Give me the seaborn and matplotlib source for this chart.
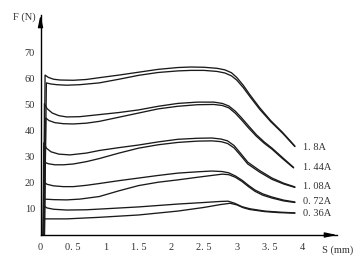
import matplotlib
matplotlib.use("Agg")
import matplotlib.pyplot as plt
import seaborn as sns
import pandas as pd

# ---- data ----
currents = ["1. 8A", "1. 44A", "1. 08A", "0. 72A", "0. 36A"]
label_y = [33.8, 25.8, 18.8, 12.7, 8.1]

x_18_up = [0.05, 0.07, 0.12, 0.2, 0.3, 0.5, 0.7, 0.9, 1.2, 1.5, 1.8, 2.1, 2.3, 2.5, 2.7, 2.82, 2.92, 3.0, 3.1, 3.2, 3.35, 3.52, 3.7, 3.89]
y_18_up = [0, 61.5, 60.6, 59.9, 59.6, 59.5, 59.8, 60.5, 61.5, 62.6, 63.7, 64.4, 64.6, 64.5, 64.1, 63.5, 62.4, 60.6, 57.6, 54.0, 49.0, 44.0, 39.5, 34.2]
x_18_lo = [0.06, 0.09, 0.15, 0.25, 0.4, 0.6, 0.9, 1.2, 1.5, 1.8, 2.1, 2.3, 2.5, 2.7, 2.82, 2.92, 3.0, 3.1, 3.2, 3.35, 3.52, 3.7, 3.89]
y_18_lo = [0, 58.5, 58.1, 57.8, 57.6, 57.8, 58.5, 59.9, 61.4, 62.5, 63.1, 63.3, 63.3, 62.9, 62.3, 61.2, 59.6, 56.7, 53.3, 48.4, 43.6, 39.2, 34.0]

x_144_up = [0.05, 0.06, 0.1, 0.18, 0.28, 0.4, 0.6, 0.9, 1.2, 1.5, 1.8, 2.1, 2.4, 2.65, 2.78, 2.88, 2.98, 3.08, 3.18, 3.3, 3.42, 3.54, 3.7, 3.87]
y_144_up = [0, 50.5, 48.6, 46.9, 45.9, 45.4, 45.5, 46.3, 47.1, 48.1, 49.5, 50.6, 51.1, 51.1, 50.6, 49.6, 47.6, 44.9, 42.0, 38.6, 35.8, 33.4, 29.8, 26.0]
x_144_lo = [0.06, 0.08, 0.13, 0.22, 0.35, 0.5, 0.7, 0.9, 1.2, 1.5, 1.8, 2.1, 2.4, 2.65, 2.78, 2.88, 2.98, 3.08, 3.18, 3.3, 3.42, 3.54, 3.7, 3.87]
y_144_lo = [0, 45.0, 44.0, 43.2, 42.8, 42.7, 43.0, 43.7, 45.3, 46.9, 48.5, 49.5, 50.1, 50.2, 49.8, 48.9, 46.8, 44.1, 41.2, 38.0, 35.3, 33.0, 29.4, 25.8]

x_108_up = [0.04, 0.05, 0.09, 0.16, 0.28, 0.45, 0.7, 0.9, 1.2, 1.5, 1.8, 2.1, 2.4, 2.62, 2.76, 2.86, 2.96, 3.06, 3.17, 3.35, 3.54, 3.72, 3.89]
y_108_up = [0, 35.4, 33.4, 32.0, 31.1, 30.8, 31.5, 32.5, 33.6, 34.6, 35.8, 36.8, 37.2, 37.3, 36.9, 36.2, 34.4, 31.4, 28.0, 24.8, 21.9, 19.9, 18.5]
x_108_lo = [0.05, 0.06, 0.12, 0.22, 0.35, 0.5, 0.7, 0.9, 1.2, 1.5, 1.8, 2.1, 2.4, 2.62, 2.76, 2.86, 2.96, 3.06, 3.17, 3.35, 3.54, 3.72, 3.89]
y_108_lo = [0, 28.0, 27.4, 27.0, 27.0, 27.3, 28.2, 29.4, 31.5, 33.4, 34.7, 35.6, 36.1, 36.2, 35.9, 35.2, 33.5, 30.6, 27.3, 24.2, 21.4, 19.6, 18.3]

x_072_up = [0.04, 0.05, 0.1, 0.2, 0.35, 0.5, 0.7, 0.9, 1.2, 1.5, 1.8, 2.1, 2.4, 2.62, 2.78, 2.88, 2.98, 3.08, 3.18, 3.28, 3.4, 3.54, 3.72, 3.89]
y_072_up = [0, 20.4, 19.5, 18.9, 18.6, 18.6, 19.1, 19.8, 20.9, 21.9, 22.9, 23.8, 24.3, 24.6, 24.4, 23.9, 22.7, 21.1, 19.1, 17.3, 15.8, 14.6, 13.4, 12.7]
x_072_lo = [0.05, 0.06, 0.2, 0.4, 0.6, 0.9, 1.2, 1.5, 1.8, 2.1, 2.4, 2.62, 2.78, 2.88, 2.98, 3.08, 3.18, 3.28, 3.4, 3.54, 3.72, 3.89]
y_072_lo = [0, 13.8, 13.6, 13.5, 13.8, 14.8, 17.0, 19.0, 20.3, 21.2, 22.2, 22.9, 23.4, 23.2, 22.2, 20.6, 18.6, 16.8, 15.3, 14.2, 13.1, 12.5]

x_036_up = [0.04, 0.05, 0.1, 0.2, 0.4, 0.7, 1.0, 1.5, 2.1, 2.5, 2.75, 2.87, 2.97, 3.08, 3.2, 3.43, 3.65, 3.89]
y_036_up = [0, 11.2, 10.4, 9.9, 9.6, 9.7, 10.1, 10.8, 11.9, 12.5, 12.9, 13.0, 12.2, 10.9, 10.1, 9.2, 8.8, 8.5]
x_036_lo = [0.05, 0.06, 0.4, 0.9, 1.5, 2.1, 2.5, 2.75, 2.9, 3.0, 3.1, 3.2, 3.43, 3.65, 3.89]
y_036_lo = [0, 6.2, 6.2, 6.8, 7.7, 9.2, 10.6, 11.7, 12.2, 11.6, 10.5, 9.8, 9.0, 8.6, 8.4]

x_ticks = [0, 0.5, 1, 1.5, 2, 2.5, 3, 3.5, 4]
x_ticklabels = ["0", "0. 5", "1", "1. 5", "2", "2. 5", "3", "3. 5", "4"]
y_ticks = [10, 20, 30, 40, 50, 60, 70]
y_ticklabels = ["10", "20", "30", "40", "50", "60", "70"]

series = [
    ("1.8 up", x_18_up, y_18_up), ("1.8 lo", x_18_lo, y_18_lo),
    ("1.44 up", x_144_up, y_144_up), ("1.44 lo", x_144_lo, y_144_lo),
    ("1.08 up", x_108_up, y_108_up), ("1.08 lo", x_108_lo, y_108_lo),
    ("0.72 up", x_072_up, y_072_up), ("0.72 lo", x_072_lo, y_072_lo),
    ("0.36 up", x_036_up, y_036_up), ("0.36 lo", x_036_lo, y_036_lo),
]
rows = []
for name, xs, ys in series:
    for i, (a, b) in enumerate(zip(xs, ys)):
        rows.append({"curve": name, "order": i, "s": a, "f": b})
df = pd.DataFrame(rows)

sns.set_style("white")
plt.rcParams["font.family"] = ["Liberation Serif", "DejaVu Serif"]

fig = plt.figure(figsize=(3.61, 2.73), dpi=100)
ax = fig.add_axes([40.5 / 361, 38 / 273, 296.5 / 361, 220 / 273])

sns.lineplot(data=df, x="s", y="f", units="curve", estimator=None, sort=False,
             color="#1a1a1a", linewidth=0.95, ax=ax, legend=False)

ax.set_xlim(0, 4.534)
ax.set_ylim(0, 84.6)
for sp in ["top", "right"]:
    ax.spines[sp].set_visible(False)
for sp in ["left", "bottom"]:
    ax.spines[sp].set_color("black")
    ax.spines[sp].set_linewidth(1.0)

ax.set_xticks(x_ticks)
ax.set_xticklabels(x_ticklabels)
ax.set_yticks(y_ticks)
ax.set_yticklabels(y_ticklabels)
ax.tick_params(axis="x", direction="in", length=5.5, width=0.9, pad=6,
               labelsize=7.5, colors="#333333")
ax.tick_params(axis="y", direction="in", length=4.3, width=0.9, pad=4,
               labelsize=7.5, colors="#333333")
ax.tick_params(axis="both", color="black")
ax.set_xlabel("")
ax.set_ylabel("")

# arrow heads
ax.annotate("", xy=(1.0, 0), xytext=(0.96, 0), xycoords="axes fraction",
            arrowprops=dict(arrowstyle="-|>,head_length=0.7,head_width=0.15",
                            color="black", lw=0.9, shrinkA=0, shrinkB=0),
            annotation_clip=False)
ax.annotate("", xy=(0, 1.0), xytext=(0, 0.95), xycoords="axes fraction",
            arrowprops=dict(arrowstyle="-|>,head_length=0.7,head_width=0.15",
                            color="black", lw=0.9, shrinkA=0, shrinkB=0),
            annotation_clip=False)

for lab, yv in zip(currents, label_y):
    ax.text(4.01, yv, lab, fontsize=7.5, color="#333333", ha="left", va="center")

fig.text(13 / 361, 1 - 17 / 273, "F (N)", fontsize=7.5, color="#333333",
         ha="left", va="center")
fig.text(322 / 361, 1 - 250 / 273, "S (mm)", fontsize=7.5, color="#333333",
         ha="left", va="center")

fig.savefig("out.png", dpi=100, facecolor="white")
